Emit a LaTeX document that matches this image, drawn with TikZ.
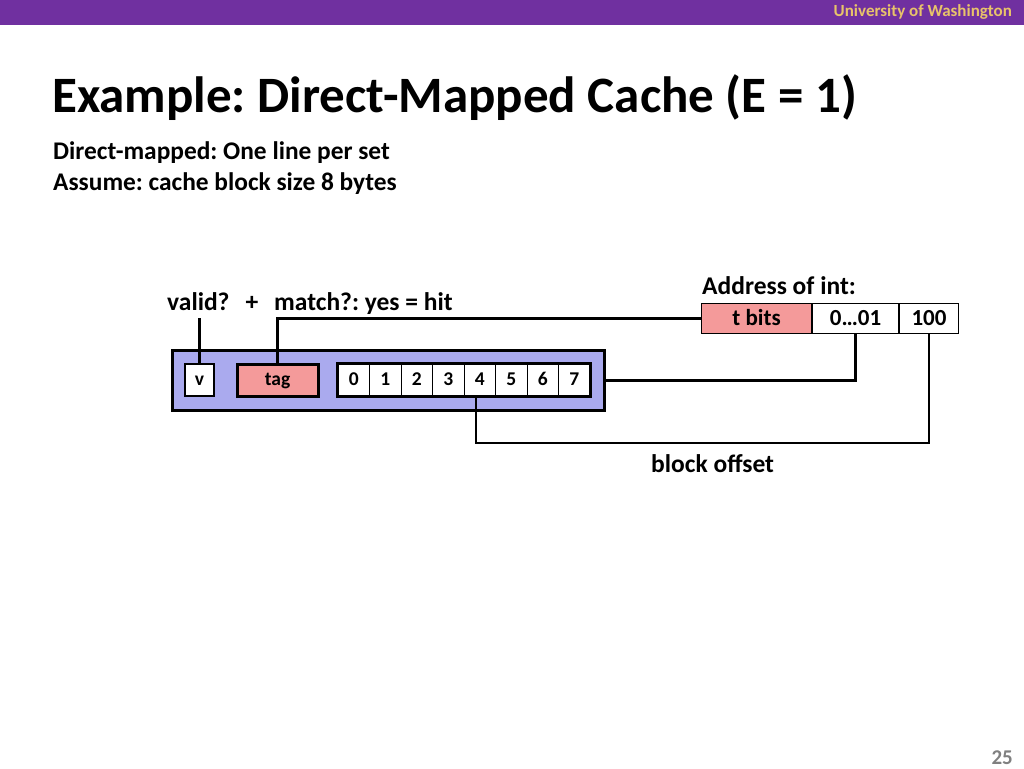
\documentclass[tikz,border=0pt]{standalone}
\usepackage{fontspec}
\setmainfont{Carlito}
\usetikzlibrary{positioning}
\frenchspacing
\definecolor{uwpurple}{RGB}{112,48,160}
\definecolor{uwgold}{RGB}{232,195,106}
\definecolor{lineblue}{RGB}{170,170,238}
\definecolor{tagred}{RGB}{244,154,154}
\tikzset{
  cell/.style={draw,line width=1pt,fill=white,minimum width=31.5pt,minimum height=32pt,inner sep=0pt,text height=13.6pt,text depth=2pt,font=\bfseries\fontsize{19.5}{22}\selectfont},
  field/.style={draw,line width=1pt,fill=white,minimum height=30pt,inner sep=0pt,text height=16pt,text depth=2.3pt,font=\bfseries\fontsize{23}{26}\selectfont},
  wire/.style={line width=2.5pt},
  label/.style={font=\bfseries\fontsize{25.5}{30}\selectfont,inner sep=0pt}
}
\begin{document}
\begin{tikzpicture}[x=1pt,y=-1pt]
  \useasboundingbox (0,0) rectangle (1024,768);
  % top bar
  \fill[uwpurple] (0,0) rectangle (1024,25);
  \node[anchor=base east,inner sep=0pt,text=uwgold,font=\bfseries\fontsize{17}{20}\selectfont] (uw) at (1012,17) {University of Washington};
  \node[anchor=base west,inner sep=0pt,font=\bfseries\fontsize{51}{60}\selectfont] (title) at (52,112) {Example: Direct-Mapped Cache (E = 1)};
  \node[anchor=base west,inner sep=0pt,font=\bfseries\fontsize{25.4}{30}\selectfont] (sub1) at (53,159) {Direct-mapped: One line per set};
  \node[anchor=base west,inner sep=0pt,font=\bfseries\fontsize{25.4}{30}\selectfont] (sub2) at (53,190) {Assume: cache block size 8 bytes};

  % the cache line
  \node[draw,line width=3pt,fill=lineblue,minimum width=432pt,minimum height=60pt,anchor=north west] (line) at (171,349) {};
  \node[cell,line width=2.5pt,minimum width=29pt] (v) at (199.5,380) {v};
  \node[cell,line width=3pt,fill=tagred,minimum width=81pt] (tag) at (277.5,380) {tag};
  \foreach \i in {0,...,7}
    \node[cell] (b\i) at (338+31.5*\i+15.75,380) {\i};
  \draw[line width=3pt] (b0.north west) rectangle (b7.south east);

  % address
  \node[label,anchor=base west] (addr) at (702,294) {Address of int:};
  \node[field,fill=tagred,minimum width=110pt,anchor=north west] (tbits) at (701,303) {t bits};
  \node[field,minimum width=86pt,right=0pt of tbits] (idx) {0\ldots01};
  \node[field,minimum width=59pt,right=0pt of idx] (off) {100};

  \node[label,anchor=base west] (hit) at (167,310) {valid?\hspace{16pt}+\hspace{16pt}match?: yes = hit};
  \node[label,anchor=base west] (boff) at (651,472) {block offset};

  % wires
  \draw[wire] (v.north) -- (199.5,318);
  \draw[wire] (tag.north) |- (tbits.west);
  \draw[wire] (idx.south) |- (line.east);
  \draw[wire] (off.south) |- ([xshift=-4pt]b4.south |- 0,443) -- ([xshift=-4pt]b4.south);

  \node[anchor=base east,inner sep=0pt,text=gray,font=\bfseries\fontsize{21}{24}\selectfont] (page) at (1013,764) {25};
\end{tikzpicture}
\end{document}
